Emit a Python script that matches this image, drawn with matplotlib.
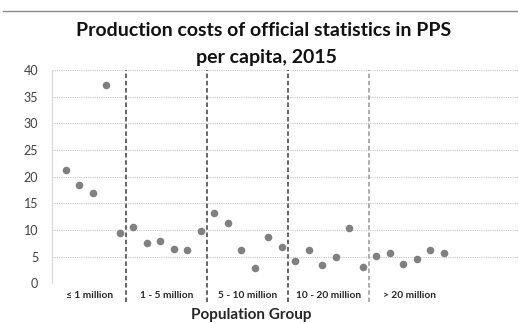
import matplotlib.pyplot as plt
from matplotlib.lines import Line2D

groups = ['≤ 1 million', '1 - 5 million', '5 - 10 million', '10 - 20 million', '> 20 million']
costs_1 = [21.3, 18.4, 16.9, 37.2, 9.4]
costs_2 = [10.6, 7.6, 8.0, 6.4, 6.2, 9.9]
costs_3 = [13.1, 11.4, 6.2, 2.9, 8.6, 6.9]
costs_4 = [4.1, 6.2, 3.5, 4.9, 10.3, 3.1]
costs_5 = [5.1, 5.6, 3.6, 4.5, 6.2, 5.6]
yticks = [0, 5, 10, 15, 20, 25, 30, 35, 40]

all_costs = [costs_1, costs_2, costs_3, costs_4, costs_5]

plt.rcParams['font.family'] = ['Lato', 'DejaVu Sans']

fig = plt.figure(figsize=(5.18, 3.23), dpi=100)
ax = fig.add_axes([0.1004, 0.1229, 0.8996, 0.6604])

# countries one after another, group by group
xs, ys, bounds = [], [], [0]
pos = 1
for vals in all_costs:
    for v in vals:
        xs.append(pos)
        ys.append(v)
        pos += 1
    bounds.append(pos - 0.5)

ax.scatter(xs, ys, s=30, color='#808080', zorder=3, linewidths=0)

ax.set_xlim(0, 34.5)
ax.set_ylim(0, 40)
ax.set_yticks(yticks)
ax.set_xticks([])
ax.tick_params(axis='y', length=0, pad=10, labelsize=9, labelcolor='#404040')
for g in yticks:
    ax.axhline(g, color='#c8c8c8', lw=0.8, ls=(0, (1, 1)), zorder=1)

for s in ['top', 'right', 'bottom']:
    ax.spines[s].set_visible(False)
ax.spines['left'].set_color('#d9d9d9')

# dashed separators between population groups
sep_colors = ['#595959', '#595959', '#595959', '#a6a6a6']
for b, c in zip(bounds[1:-1], sep_colors):
    ax.axvline(b, ymin=-0.088, ymax=1, color=c, lw=1.3, ls=(0, (2.5, 1.5)),
               clip_on=False, zorder=2)

for i, name in enumerate(groups):
    mid = (bounds[i] + bounds[i + 1]) / 2
    ax.text(mid, -0.055, name, transform=ax.get_xaxis_transform(),
            ha='center', va='center', fontsize=7.3, fontweight='bold', color='#262626')

fig.text(0.486, 1 - 315 / 323, 'Population Group', ha='center', va='center',
         fontsize=11, fontweight='bold', color='#262626')
fig.text(0.508, 1 - 31 / 323, 'Production costs of official statistics in PPS',
         ha='center', va='center', fontsize=14, fontweight='bold', color='#111111')
fig.text(0.515, 1 - 57 / 323, 'per capita, 2015',
         ha='center', va='center', fontsize=14, fontweight='bold', color='#111111')

fig.add_artist(Line2D([0.006, 1], [1 - 11 / 323, 1 - 11 / 323], color='#8a8a8a', lw=1))

fig.savefig('out.png', dpi=100)
